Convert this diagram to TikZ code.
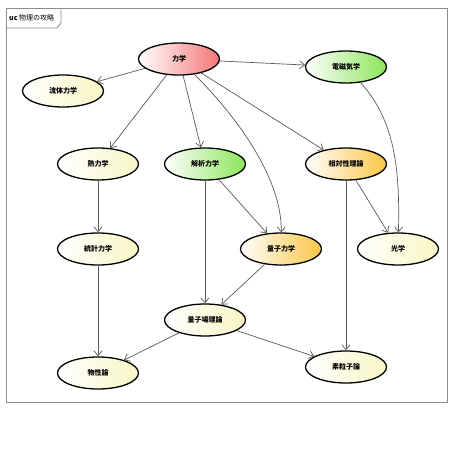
\documentclass[tikz,border=0pt]{standalone}
\usepackage{fontspec}
\setmainfont{Noto Sans CJK JP}
\usetikzlibrary{shapes.geometric,arrows.meta}
\definecolor{mechred}{RGB}{244,118,118}
\definecolor{emgreen}{RGB}{140,228,90}
\definecolor{qorange}{RGB}{250,198,70}
\definecolor{plainyellow}{RGB}{248,246,196}
\definecolor{framegray}{RGB}{140,140,140}
\definecolor{edgegray}{RGB}{90,90,90}
\begin{document}
\begin{tikzpicture}[x=1pt,y=-1pt,
    usecase/.style={ellipse,draw=black,line width=1.3pt,minimum width=81pt,minimum height=32pt,
      inner sep=0pt,font=\fontsize{7}{8}\selectfont\bfseries,left color=white},
    plain/.style={usecase,right color=plainyellow},
    redcase/.style={usecase,right color=mechred},
    greencase/.style={usecase,right color=emgreen},
    orangecase/.style={usecase,right color=qorange},
    dep/.style={draw=edgegray,line width=0.7pt,-{Straight Barb[length=5pt,width=8pt]}}]
  \fill[white] (0,0) rectangle (453,453);
  \useasboundingbox (0,0) rectangle (453,453);

  % frame and its tab
  \draw[framegray,line width=0.8pt] (6,8) rectangle (447,402);
  \draw[framegray,line width=0.8pt] (6,28) -- (57,28) -- (61,23) -- (61,8);
  \node[anchor=west,inner sep=0pt,font=\fontsize{7}{8}\selectfont] (title) at (9,18)
    {\textbf{uc} 物理の攻略};

  % the use cases
  \node[redcase] (mech) at (179,59) {力学};
  \node[plain] (fluid) at (63,91) {流体力学};
  \node[greencase] (em) at (346,67) {電磁気学};
  \node[plain] (thermo) at (98,164) {熱力学};
  \node[greencase] (anal) at (205,164) {解析力学};
  \node[orangecase] (rel) at (346,164) {相対性理論};
  \node[plain] (stat) at (98,249) {統計力学};
  \node[orangecase] (qm) at (281,249) {量子力学};
  \node[plain] (optics) at (398,249) {光学};
  \node[plain] (qft) at (205,320) {量子場理論};
  \node[plain] (cond) at (98,373) {物性論};
  \node[plain] (particle) at (346,367) {素粒子論};

  % dependencies
  \draw[dep] (mech) -- (fluid);
  \draw[dep] (mech) -- (em);
  \draw[dep] (mech) -- (thermo);
  \draw[dep] (mech) -- (anal);
  \draw[dep] (mech) -- (rel);
  \draw[dep] (mech) .. controls (240,120) and (282,180) .. (qm);
  \draw[dep] (em) .. controls (395,120) and (400,170) .. (optics);
  \draw[dep] (thermo) -- (stat);
  \draw[dep] (anal) -- (qft);
  \draw[dep] (anal) -- (qm);
  \draw[dep] (rel) -- (optics);
  \draw[dep] (rel) -- (particle);
  \draw[dep] (qm) -- (qft);
  \draw[dep] (stat) -- (cond);
  \draw[dep] (qft) -- (cond);
  \draw[dep] (qft) -- (particle);
\end{tikzpicture}
\end{document}
